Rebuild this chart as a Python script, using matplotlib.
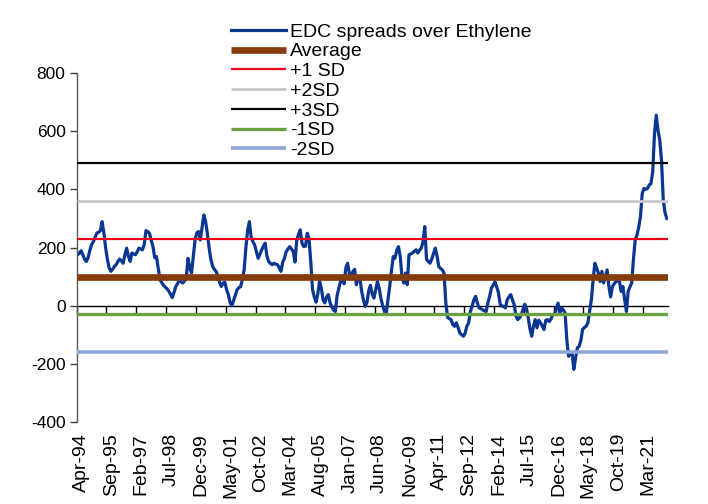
import matplotlib
matplotlib.use("Agg")
import matplotlib.pyplot as plt
import matplotlib.transforms as mtransforms
import numpy as np
import pandas as pd

plt.rcParams['font.family'] = ['Liberation Sans', 'DejaVu Sans']
plt.rcParams['axes.unicode_minus'] = False

# Monthly EDC spread over ethylene, Apr-94 onward
spread = [
    175, 180, 189, 175, 160, 152, 165, 190, 210, 220, 235, 250,
    252, 258, 289, 250, 200, 160, 130, 118, 125, 135, 141, 152,
    160, 155, 146, 175, 198, 170, 152, 181, 178, 175, 185, 198,
    195, 192, 210, 258, 255, 249, 225, 203, 165, 169, 130, 89,
    80, 70, 64, 58, 50, 40, 28, 45, 66, 75, 89, 82,
    78, 85, 95, 163, 130, 112, 170, 226, 250, 255, 226, 270,
    312, 290, 249, 200, 160, 135, 125, 118, 100, 80, 66, 78,
    80, 55, 38, 10, 0, 18, 35, 55, 62, 66, 90, 123,
    200, 260, 289, 235, 220, 209, 185, 163, 178, 192, 205, 215,
    170, 152, 145, 141, 146, 143, 141, 130, 118, 150, 163, 186,
    195, 203, 195, 186, 150, 226, 245, 261, 215, 203, 205, 249,
    230, 150, 55, 30, 12, 40, 85, 60, 20, 10, 30, 38,
    10, -5, -15, -20, 35, 60, 85, 89, 75, 130, 146, 110,
    95, 118, 125, 72, 100, 95, 50, 20, -2, 10, 50, 70,
    40, 26, 55, 83, 60, 25, 0, -20, -31, 20, 66, 120,
    169, 163, 190, 203, 169, 100, 78, 112, 72, 175, 178, 181,
    187, 192, 181, 190, 198, 220, 272, 160, 152, 146, 160, 180,
    198, 170, 135, 128, 123, 112, 10, -40, -45, -48, -65, -71,
    -59, -75, -94, -100, -105, -95, -70, -60, -20, -2, 20, 32,
    9, -8, -10, -14, -18, -20, 10, 32, 61, 70, 83, 65,
    45, 5, -2, -2, -8, 20, 30, 38, 20, 3, -35, -48,
    -42, -30, -14, 5, -10, -42, -80, -105, -70, -48, -76, -50,
    -59, -70, -82, -50, -48, -55, -45, -31, -30, -10, 9, -25,
    -8, -15, -25, -117, -174, -165, -162, -219, -180, -145, -140, -120,
    -82, -75, -71, -59, -20, 20, 89, 146, 130, 112, 83, 118,
    78, 100, 123, 66, 30, 66, 75, 83, 85, 83, 49, 66,
    20, -20, 49, 65, 78, 160, 226, 243, 270, 306, 386, 403,
    400, 403, 415, 420, 460, 592, 655, 603, 570, 500, 363, 320,
    300,
]

months = pd.date_range("1994-04-01", periods=len(spread), freq="MS")
month_labels = list(months.strftime("%b-%y"))

average = 100
sd = 130
bands = [
    ("Average", average, "#843C0C", 4.8),
    ("+1 SD", average + sd, "#E8001C", 1.6),
    ("+2SD", average + 2 * sd, "#C9C9C9", 2.0),
    ("+3SD", average + 3 * sd, "#000000", 1.6),
    ("-1SD", average - sd, "#6BA043", 2.4),
    ("-2SD", average - 2 * sd, "#8FA8D8", 2.6),
]

label_step = 17

fig = plt.figure(figsize=(7.08, 5.04), dpi=100)
ax = fig.add_axes([0.1083, 0.1627, 0.8347, 0.6924])

x = np.arange(len(spread))
handles = []
h, = ax.plot(x, spread, color="#0B3691", lw=2.3, solid_joinstyle="round",
             label="EDC spreads over Ethylene", zorder=2)
handles.append(h)
for name, level, color, lw in bands:
    h = ax.axhline(level, color=color, lw=lw, label=name, zorder=3,
                   solid_capstyle="butt")
    handles.append(h)

ax.set_xlim(-0.5, len(spread) - 0.5)
ax.set_ylim(-400, 800)
ax.set_yticks(np.arange(-400, 801, 200))
ax.tick_params(axis="y", direction="out", length=5, width=1, colors="#404040",
               labelcolor="black", labelsize=12.5, pad=3)

for side in ("top", "right"):
    ax.spines[side].set_visible(False)
ax.spines["left"].set_color("#595959")
ax.spines["left"].set_linewidth(1.0)

# category axis crossing at zero, tick marks between categories
ax.spines["bottom"].set_position(("data", 0))
ax.spines["bottom"].set_color("#000000")
ax.spines["bottom"].set_linewidth(1.0)
ax.spines["bottom"].set_zorder(1)
ax.set_xticks(np.arange(-0.5, len(spread), label_step))
ax.tick_params(axis="x", direction="out", length=5, width=1, colors="black",
               labelbottom=False)

# category labels sit at the bottom of the plot area
sec = ax.secondary_xaxis(0.0)
label_pos = x[::label_step]
sec.set_xticks(label_pos)
sec.set_xticklabels([month_labels[i] for i in label_pos], rotation=90,
                    fontsize=14)
sec.tick_params(axis="x", length=0, pad=8)
sec.spines["bottom"].set_visible(False)
shift = mtransforms.ScaledTranslation(4 / 100, 0, fig.dpi_scale_trans)
for lab in sec.get_xticklabels():
    lab.set_transform(lab.get_transform() + shift)

fig.legend(handles=handles, loc="upper left",
           bbox_to_anchor=(231 / 708, 1 - 23 / 504), frameon=False,
           fontsize=14, handlelength=2.85, handletextpad=0.2,
           labelspacing=0.11, borderpad=0, borderaxespad=0)

fig.savefig("out.png", dpi=100)
